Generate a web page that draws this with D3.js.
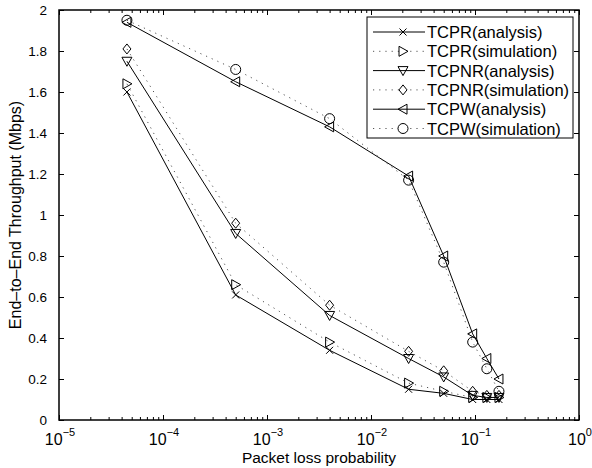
<!DOCTYPE html>
<html>
<head>
<meta charset="utf-8">
<script src="https://cdn.jsdelivr.net/npm/d3@7"></script>
<style>
  body { margin: 0; background: #fff; }
  svg { display: block; font-family: "Liberation Sans", Arial, sans-serif; }
</style>
</head>
<body>
<div id="chart"></div>
<script>
// packet loss probabilities (x) and throughputs in Mbps (y)
const lossProb = [4.5e-5, 5e-4, 4e-3, 0.023, 0.05, 0.095, 0.13, 0.17];

const tcprAnalysis  = [1.60, 0.61, 0.34, 0.15, 0.13, 0.10, 0.10, 0.10];
const tcprSim       = [1.64, 0.66, 0.38, 0.18, 0.14, 0.11, 0.11, 0.11];
const tcpnrAnalysis = [1.75, 0.91, 0.51, 0.30, 0.21, 0.12, 0.11, 0.11];
const tcpnrSim      = [1.81, 0.96, 0.56, 0.335, 0.24, 0.14, 0.12, 0.12];
const tcpwAnalysis  = [1.94, 1.65, 1.43, 1.19, 0.80, 0.42, 0.30, 0.20];
const tcpwSim       = [1.95, 1.71, 1.47, 1.17, 0.77, 0.38, 0.25, 0.14];

const seriesNames = ["TCPR(analysis)", "TCPR(simulation)", "TCPNR(analysis)",
                     "TCPNR(simulation)", "TCPW(analysis)", "TCPW(simulation)"];

const xTickExps = [-5, -4, -3, -2, -1, 0];
const yTicks = [0, 0.2, 0.4, 0.6, 0.8, 1, 1.2, 1.4, 1.6, 1.8, 2];

const width = 592, height = 468;
const margin = { top: 10, right: 13, bottom: 48, left: 59 };

const svg = d3.select("#chart").append("svg")
    .attr("width", width)
    .attr("height", height);

const x = d3.scaleLog().domain([1e-5, 1]).range([margin.left, width - margin.right]);
const y = d3.scaleLinear().domain([0, 2]).range([height - margin.bottom, margin.top]);

// marker shapes
const markers = {
    cross: "M-3.5,-3.5L3.5,3.5M-3.5,3.5L3.5,-3.5",
    triRight: "M-4,-5L5,0L-4,5Z",
    triDown: "M-5,-4L5,-4L0,5Z",
    diamond: "M0,-5L4,0L0,5L-4,0Z",
    triLeft: "M4,-5L-5,0L4,5Z",
    circle: "M5,0A5,5 0 1,1 -5,0A5,5 0 1,1 5,0Z"
};

const series = [
    { name: seriesNames[0], values: tcprAnalysis,  marker: "cross",    dotted: false },
    { name: seriesNames[1], values: tcprSim,       marker: "triRight", dotted: true },
    { name: seriesNames[2], values: tcpnrAnalysis, marker: "triDown",  dotted: false },
    { name: seriesNames[3], values: tcpnrSim,      marker: "diamond",  dotted: true },
    { name: seriesNames[4], values: tcpwAnalysis,  marker: "triLeft",  dotted: false },
    { name: seriesNames[5], values: tcpwSim,       marker: "circle",   dotted: true }
];

const plotW = width - margin.left - margin.right;
const plotH = height - margin.top - margin.bottom;

// minor log ticks
const minorTicks = [];
xTickExps.slice(0, -1).forEach(e => {
    for (let k = 2; k <= 9; k++) minorTicks.push(k * Math.pow(10, e));
});
const majorTicks = xTickExps.map(e => Math.pow(10, e));

function tickStyle(g) {
    g.select(".domain").remove();
    g.selectAll(".tick line").attr("stroke", "#000").attr("stroke-width", 1);
}

// bottom ticks
svg.append("g").attr("transform", `translate(0,${y(0)})`)
    .call(d3.axisBottom(x).tickValues(majorTicks).tickSize(-5).tickFormat(""))
    .call(tickStyle);
svg.append("g").attr("transform", `translate(0,${y(0)})`)
    .call(d3.axisBottom(x).tickValues(minorTicks).tickSize(-3).tickFormat(""))
    .call(tickStyle);
// top ticks
svg.append("g").attr("transform", `translate(0,${y(2)})`)
    .call(d3.axisTop(x).tickValues(majorTicks).tickSize(-5).tickFormat(""))
    .call(tickStyle);
svg.append("g").attr("transform", `translate(0,${y(2)})`)
    .call(d3.axisTop(x).tickValues(minorTicks).tickSize(-3).tickFormat(""))
    .call(tickStyle);

// left axis with labels
svg.append("g").attr("transform", `translate(${x(1e-5)},0)`)
    .call(d3.axisLeft(y).tickValues(yTicks).tickSize(-5).tickPadding(12).tickFormat(d3.format("~g")))
    .call(tickStyle)
    .call(g => g.selectAll("text").attr("font-size", 13.5).attr("fill", "#000")
        .attr("font-family", "Liberation Sans, Arial, sans-serif"));
// right ticks
svg.append("g").attr("transform", `translate(${x(1)},0)`)
    .call(d3.axisRight(y).tickValues(yTicks).tickSize(-5).tickFormat(""))
    .call(tickStyle);

// x tick labels: 10^e
const xl = svg.append("g");
xTickExps.forEach(e => {
    const t = xl.append("text")
        .attr("x", x(Math.pow(10, e)) + 1)
        .attr("y", y(0) + 25)
        .attr("text-anchor", "middle")
        .attr("font-size", 16);
    t.append("tspan").text("10");
    t.append("tspan").attr("dy", -9).attr("font-size", 11)
        .text(e === 0 ? "0" : "\u2212" + Math.abs(e));
});

// axis titles
svg.append("text")
    .attr("x", (x(1e-5) + x(1)) / 2)
    .attr("y", height - 5)
    .attr("text-anchor", "middle")
    .attr("font-size", 15.5)
    .text("Packet loss probability");

svg.append("text")
    .attr("transform", `translate(21,${(y(0) + y(2)) / 2}) rotate(-90)`)
    .attr("text-anchor", "middle")
    .attr("font-size", 16)
    .text("End\u2013to\u2013End Throughput (Mbps)");

// lines
const line = d3.line().x(d => x(d[0])).y(d => y(d[1]));

function styleLine(sel, dotted) {
    sel.attr("fill", "none")
        .attr("stroke", dotted ? "#555" : "#000")
        .attr("stroke-width", 1)
        .attr("stroke-dasharray", dotted ? "1.2,5" : null);
}

const plot = svg.append("g");
series.forEach(s => {
    const pts = lossProb.map((p, i) => [p, s.values[i]]);
    plot.append("path").datum(pts).attr("d", line).call(styleLine, s.dotted);
    plot.selectAll(null).data(pts).enter().append("path")
        .attr("transform", d => `translate(${x(d[0])},${y(d[1])})`)
        .attr("d", markers[s.marker])
        .attr("fill", "none")
        .attr("stroke", "#000")
        .attr("stroke-width", 1);
});

// frame
svg.append("rect")
    .attr("x", x(1e-5)).attr("y", y(2))
    .attr("width", plotW).attr("height", plotH)
    .attr("fill", "none").attr("stroke", "#000").attr("stroke-width", 1.5);

// legend
const lg = svg.append("g").attr("transform", "translate(367,17)");
lg.append("rect").attr("width", 206).attr("height", 121)
    .attr("fill", "#fff").attr("stroke", "#000").attr("stroke-width", 1);
series.forEach((s, i) => {
    const ly = 15 + i * 19.3;
    lg.append("line").attr("x1", 6).attr("x2", 58).attr("y1", ly).attr("y2", ly)
        .call(styleLine, s.dotted);
    lg.append("path").attr("transform", `translate(36,${ly})`)
        .attr("d", markers[s.marker])
        .attr("fill", s.dotted ? "#fff" : "none")
        .attr("stroke", "#000");
    lg.append("text").attr("x", 60).attr("y", ly + 6)
        .attr("font-size", 16.5)
        .text(s.name);
});
</script>
</body>
</html>
